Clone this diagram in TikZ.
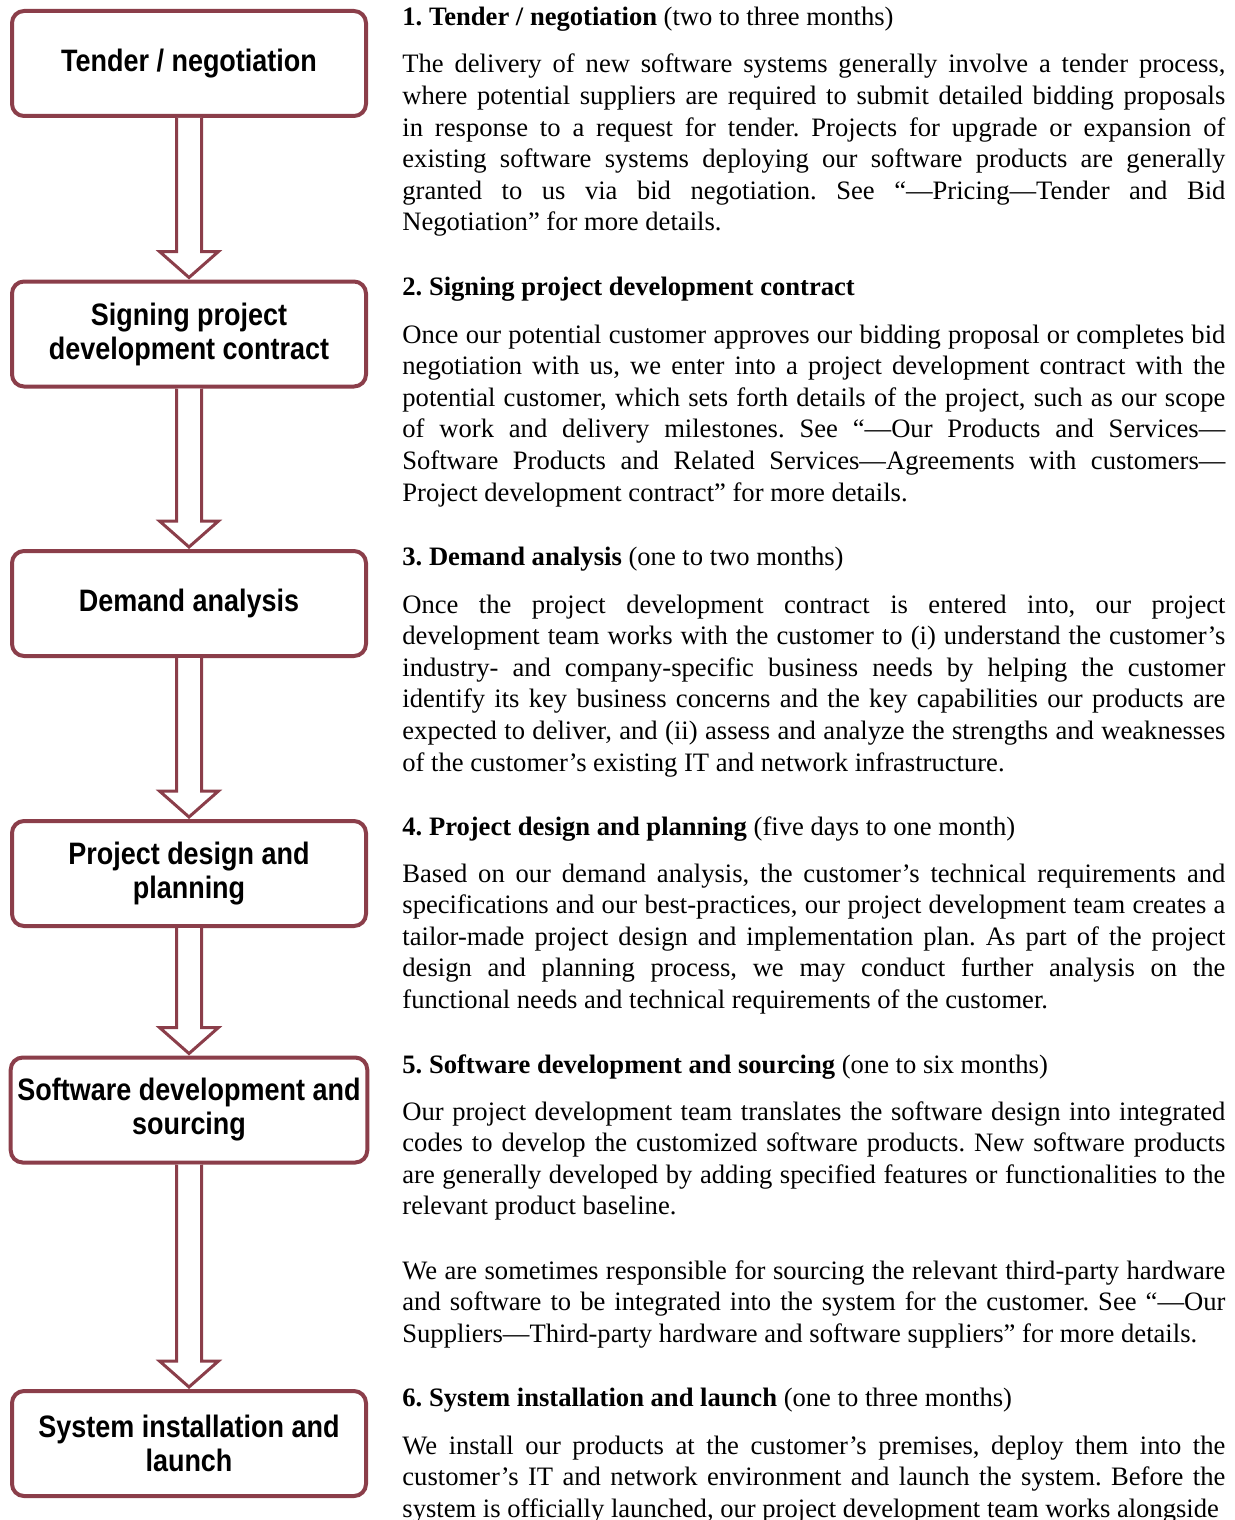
\documentclass[tikz,border=0pt]{standalone}
\usepackage{fontspec}
\setmainfont{Liberation Serif}
\newfontfamily\boxfont[FakeStretch=0.87]{Liberation Sans}
\usetikzlibrary{calc}
\definecolor{boxred}{RGB}{139,62,74}
\frenchspacing
\tikzset{
    box/.style ={
        rectangle,                  % 矩形节点
        rounded corners = 6pt,      % 圆角
        minimum width   = 177pt,    % 最小宽度
        minimum height  = 52.5pt,   % 最小高度
        line width = 2pt,           % 边框粗细
        draw = boxred,              % 边框颜色
        fill = white,
        align = center,
        font = \boxfont\bfseries\fontsize{15.5}{17}\selectfont
    },
    head/.style ={
        anchor = base west,         % 标题左端对齐
        inner sep = 0pt,
        font = \fontsize{13.3}{15.8}\selectfont
    },
    para/.style ={
        anchor = base west,         % 首行基线对齐
        inner sep = 0pt,
        text width = 411.5pt,       % 段落宽度
        align = justify,            % 两端对齐
        font = \fontsize{13.3}{15.8}\selectfont
    },
    flow/.style ={
        draw = boxred,              % 空心箭头
        line width = 1.5pt,
        fill = white,
        line join = miter
    }
}
\newcommand{\flowarrow}[2]{%
    \draw[flow] ($(#1.south)+(-12.5,0)$) -- ($(#2.north)+(-12.5,-28)$)
        -- ($(#2.north)+(-29.5,-28)$) -- ($(#2.north)+(0,-2)$)
        -- ($(#2.north)+(29.5,-28)$) -- ($(#2.north)+(12.5,-28)$)
        -- ($(#1.south)+(12.5,0)$);}

\begin{document}
\begin{tikzpicture}[x=0.5pt,y=-0.5pt]
    \useasboundingbox (0,0) rectangle (1235,1520);
    % 左侧流程框
    \node[box] (1) at(189,63.5) {Tender / negotiation};
    \node[box] (2) at(189,334) {Signing project\\development contract};
    \node[box] (3) at(189,603.5) {Demand analysis};
    \node[box] (4) at(189,873.5) {Project design and\\planning};
    \node[box] (5) at(189,1110) {Software development and\\sourcing};
    \node[box] (6) at(189,1443.5) {System installation and\\launch};
    \flowarrow{1}{2}
    \flowarrow{2}{3}
    \flowarrow{3}{4}
    \flowarrow{4}{5}
    \flowarrow{5}{6}
    % 右侧说明文字
    \node[head] (h1) at(402,26) {\textbf{1. Tender / negotiation} (two to three months)};
    \node[para] (p1) at(402,73) {The delivery of new software systems generally involve a tender process,\linebreak
        where potential suppliers are required to submit detailed bidding proposals\linebreak
        in response to a request for tender. Projects for upgrade or expansion of\linebreak
        existing software systems deploying our software products are generally\linebreak
        granted to us via bid negotiation. See “—Pricing—Tender and Bid\linebreak
        Negotiation” for more details.};
    \node[head] (h2) at(402,295) {\textbf{2. Signing project development contract}};
    \node[para] (p2) at(402,343) {Once our potential customer approves our bidding proposal or completes bid\linebreak
        negotiation with us, we enter into a project development contract with the\linebreak
        potential customer, which sets forth details of the project, such as our scope\linebreak
        of work and delivery milestones. See “—Our Products and Services—\linebreak
        Software Products and Related Services—Agreements with customers—\linebreak
        Project development contract” for more details.};
    \node[head] (h3) at(402,565) {\textbf{3. Demand analysis} (one to two months)};
    \node[para] (p3) at(402,613) {Once the project development contract is entered into, our project\linebreak
        development team works with the customer to (i) understand the customer’s\linebreak
        industry- and company-specific business needs by helping the customer\linebreak
        identify its key business concerns and the key capabilities our products are\linebreak
        expected to deliver, and (ii) assess and analyze the strengths and weaknesses\linebreak
        of the customer’s existing IT and network infrastructure.};
    \node[head] (h4) at(402,835) {\textbf{4. Project design and planning} (five days to one month)};
    \node[para] (p4) at(402,882) {Based on our demand analysis, the customer’s technical requirements and\linebreak
        specifications and our best-practices, our project development team creates a\linebreak
        tailor-made project design and implementation plan. As part of the project\linebreak
        design and planning process, we may conduct further analysis on the\linebreak
        functional needs and technical requirements of the customer.};
    \node[head] (h5) at(402,1073) {\textbf{5. Software development and sourcing} (one to six months)};
    \node[para] (p5) at(402,1120) {Our project development team translates the software design into integrated\linebreak
        codes to develop the customized software products. New software products\linebreak
        are generally developed by adding specified features or functionalities to the\linebreak
        relevant product baseline.};
    \node[para] (p5b) at(402,1279) {We are sometimes responsible for sourcing the relevant third-party hardware\linebreak
        and software to be integrated into the system for the customer. See “—Our\linebreak
        Suppliers—Third-party hardware and software suppliers” for more details.};
    \node[head] (h6) at(402,1406) {\textbf{6. System installation and launch} (one to three months)};
    \node[para] (p6) at(402,1454) {\parfillskip=0pt We install our products at the customer’s premises, deploy them into the\linebreak
        customer’s IT and network environment and launch the system. Before the\linebreak
        system is officially launched, our project development team works alongside};
\end{tikzpicture}
\end{document}
